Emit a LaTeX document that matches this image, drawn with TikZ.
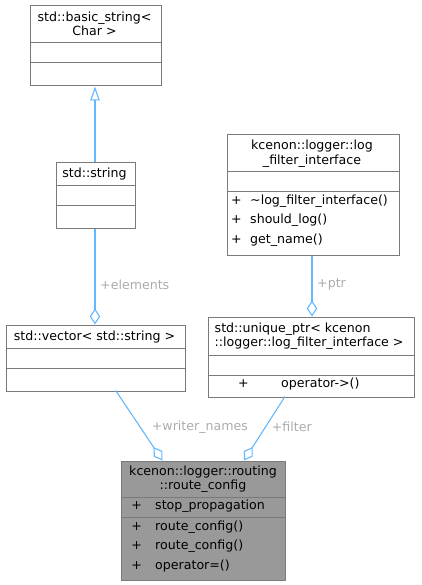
\documentclass[tikz,border=0pt]{standalone}
\usepackage{fontspec}
\setmainfont{DejaVu Sans}
\usetikzlibrary{arrows.meta}
\definecolor{boxc}{HTML}{7A7A7A}
\definecolor{edgec}{HTML}{63B8FF}
\definecolor{labc}{HTML}{ABABAB}
\definecolor{fillc}{HTML}{999999}
\begin{document}
\begin{tikzpicture}[x=1pt,y=-1pt,
 classbox/.style={draw=boxc, line width=1pt, fill=white, inner sep=0pt, anchor=north west},
 divline/.style={draw=boxc, line width=1pt},
 txt/.style={inner sep=0pt, font=\fontsize{12.6}{14.5}\selectfont, align=center},
 ltxt/.style={txt, anchor=west, align=left},
 conn/.style={draw=edgec, line width=1.1pt},
 lab/.style={inner sep=0pt, anchor=west, text=labc, font=\fontsize{12.6}{14.5}\selectfont},
 inh/.style={conn, -{Triangle[open, length=14pt, width=9.5pt]}},
 agg/.style={conn, -{Diamond[open, length=16pt, width=10.5pt]}},
]
\useasboundingbox (0,0) rectangle (421,585);

% std::basic_string<Char>
\node[classbox, minimum width=131pt, minimum height=80pt] (bs) at (29.5,5.5) {};
\draw[divline] (29.5,42.5) -- (160.5,42.5) (29.5,62.5) -- (160.5,62.5);
\node[txt] (bst) at (94.5,24) {std::basic\_string<\\Char >};

% std::string
\node[classbox, minimum width=79pt, minimum height=65pt] (str) at (55.5,162.5) {};
\draw[divline] (55.5,185.5) -- (134.5,185.5) (55.5,205.5) -- (134.5,205.5);
\node[txt] (strt) at (94.5,174) {std::string};

% std::vector
\node[classbox, minimum width=179pt, minimum height=66pt] (vec) at (5.5,324.5) {};
\draw[divline] (5.5,348.5) -- (184.5,348.5) (5.5,368.5) -- (184.5,368.5);
\node[txt] (vect) at (94.5,336.7) {std::vector< std::string >};

% log_filter_interface
\node[classbox, minimum width=172pt, minimum height=120pt] (lf) at (226.5,134.5) {};
\draw[divline] (226.5,171.5) -- (398.5,171.5) (226.5,191.5) -- (398.5,191.5);
\node[txt] (lft) at (312,153.7) {kcenon::logger::log\\\_filter\_interface};
\node[txt] (lfp1) at (236.3,200.7) {+};
\node[ltxt] (lfm1) at (250,200.7) {\textasciitilde log\_filter\_interface()};
\node[txt] (lfp2) at (236.3,220) {+};
\node[ltxt] (lfm2) at (250,220) {should\_log()};
\node[txt] (lfp3) at (236.3,240) {+};
\node[ltxt] (lfm3) at (250,240) {get\_name()};

% unique_ptr
\node[classbox, minimum width=206pt, minimum height=80pt] (uq) at (207.5,316.5) {};
\draw[divline] (207.5,355.5) -- (413.5,355.5) (207.5,375.5) -- (413.5,375.5);
\node[ltxt] (uqt) at (214.5,336) {std::unique\_ptr< kcenon\\::logger::log\_filter\_interface >};
\node[txt] (uqp1) at (243.3,384) {+};
\node[ltxt] (uqm1) at (281,384) {operator->()};

% route_config
\node[classbox, fill=fillc, minimum width=164pt, minimum height=119pt] (rc) at (120.5,460.5) {};
\draw[divline] (120.5,497.5) -- (284.5,497.5) (120.5,517.5) -- (284.5,517.5);
\node[txt] (rct) at (203,479.2) {kcenon::logger::routing\\::route\_config};
\node[txt] (rcp1) at (136.7,506) {+};
\node[ltxt] (rca1) at (155,506) {stop\_propagation};
\node[txt] (rcp2) at (136.7,526.7) {+};
\node[ltxt] (rcm1) at (155,526.7) {route\_config()};
\node[txt] (rcp3) at (136.7,546) {+};
\node[ltxt] (rcm2) at (155,546) {route\_config()};
\node[txt] (rcp4) at (136.7,566) {+};
\node[ltxt] (rcm3) at (155,566) {operator=()};

% connectors
\coordinate (w1) at (115.7,390.5);
\coordinate (w2) at (162.5,460.5);
\coordinate (f1) at (285,396.5);
\coordinate (f2) at (244,460.5);
\draw[inh] ([xshift=-0.5pt]str.north) -- ([xshift=-0.5pt]bs.south);
\draw[agg] ([xshift=-0.5pt]str.south) -- ([xshift=-0.5pt]vec.north);
\draw[agg] ([xshift=-1pt]lf.south) -- ([xshift=-1pt]lf.south |- uq.north);
\draw[agg] (w1) -- (w2);
\draw[agg] (f1) -- (f2);

% labels
\node[lab] (le) at (100,285) {+elements};
\node[lab] (lp) at (317,284) {+ptr};
\node[lab] (lw) at (151.7,427) {+writer\_names};
\node[lab] (lfl) at (271.7,427) {+filter};
\end{tikzpicture}
\end{document}
